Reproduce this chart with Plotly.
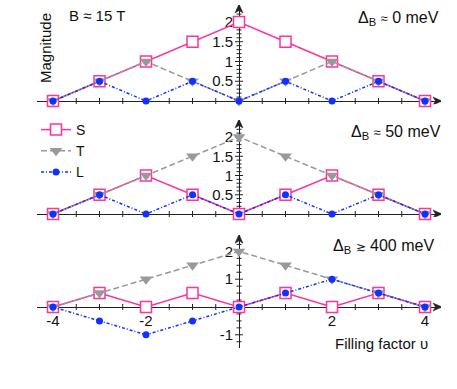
import numpy as np
import plotly.graph_objects as go

# ---------------- data ----------------
filling = [-4, -3, -2, -1, 0, 1, 2, 3, 4]

# panel 1: Delta_B ~ 0 meV
S1 = [0, 0.5, 1, 1.5, 2, 1.5, 1, 0.5, 0]
T1 = [0, 0.5, 1, 0.5, 0, 0.5, 1, 0.5, 0]
L1 = [0, 0.5, 0, 0.5, 0, 0.5, 0, 0.5, 0]
# panel 2: Delta_B ~ 50 meV
S2 = [0, 0.5, 1, 0.5, 0, 0.5, 1, 0.5, 0]
T2 = [0, 0.5, 1, 1.5, 2, 1.5, 1, 0.5, 0]
L2 = [0, 0.5, 0, 0.5, 0, 0.5, 0, 0.5, 0]
# panel 3: Delta_B >~ 400 meV
S3 = [0, 0.5, 0, 0.5, 0, 0.5, 0, 0.5, 0]
T3 = [0, 0.5, 1, 1.5, 2, 1.5, 1, 0.5, 0]
L3 = [0, -0.5, -1, -0.5, 0, 0.5, 1, 0.5, 0]

series_names = ["S", "T", "L"]
SUB_B = "<sub>B</sub>"
panel_labels = [
    f"Δ{SUB_B} <span style='font-size:13px'>≈</span> 0 meV",
    f"Δ{SUB_B} <span style='font-size:13px'>≈</span> 50 meV",
    f"Δ{SUB_B} <span style='font-size:12px'>≳</span> 400 meV",
]
xtick_labels_bottom = [-4, -2, 2, 4]
ytick_sets = [[0.5, 1, 1.5, 2], [0.5, 1, 1.5, 2], [-1, 1, 2]]

# ---------------- layout geometry ----------------
W, H = 457, 389
FONT = "Liberation Sans, Arial, Helvetica, sans-serif"
PINK = "#ff3399"
GRAY = "#999999"
BLUE = "#1430ff"
AX = "#222222"


def fx(p):
    return p / W


def fy(p):
    return 1 - p / H


def fmt(v):
    return f"{v:g}".replace("−", "-")


x_range = [-4.344, 4.344]
x_dom_px = [37, 441]
x_zero_px = 239

# (zero pixel, px per unit, y range, minor step)
panels = [
    (101, 39.5, [-0.08, 2.43], 0.1),
    (214, 38.5, [-0.08, 2.44], 0.1),
    (307, 27.8, [-1.48, 2.58], 0.25),
]

data_sets = [(S1, T1, L1), (S2, T2, L2), (S3, T3, L3)]

fig = go.Figure()
layout = dict(
    width=W, height=H,
    margin=dict(l=0, r=0, t=0, b=0),
    paper_bgcolor="white", plot_bgcolor="white",
    font=dict(family=FONT, size=14, color="#111"),
    showlegend=True,
)
shapes = []
annotations = []

for i, ((zero_px, scale, yr, minor), (S, T, L)) in enumerate(zip(panels, data_sets)):
    n = i + 1
    xa = "x" if n == 1 else f"x{n}"
    ya = "y" if n == 1 else f"y{n}"
    xkey = "xaxis" if n == 1 else f"xaxis{n}"
    ykey = "yaxis" if n == 1 else f"yaxis{n}"
    top_px = zero_px - yr[1] * scale
    bot_px = zero_px - yr[0] * scale

    show_xlab = (n == 3)
    xt = xtick_labels_bottom if show_xlab else []
    layout[xkey] = dict(
        domain=[fx(x_dom_px[0]), fx(x_dom_px[1])], range=x_range,
        anchor="free", position=fy(zero_px),
        showline=True, linecolor=AX, linewidth=1.3,
        showgrid=False, zeroline=False, ticks="",
        tickmode="array", tickvals=xt, ticktext=[fmt(v) for v in xt],
        showticklabels=show_xlab, ticklabelstandoff=0,
        tickfont=dict(size=15, family=FONT, color="#111"),
        layer="below traces", fixedrange=True,
    )
    layout[ykey] = dict(
        domain=[fy(bot_px), fy(top_px)], range=yr,
        anchor="free", position=fx(x_zero_px),
        showline=True, linecolor=AX, linewidth=1.3,
        showgrid=False, zeroline=False, ticks="",
        tickmode="array", tickvals=ytick_sets[i],
        ticktext=[fmt(v) for v in ytick_sets[i]],
        ticklabelstandoff=3,
        tickfont=dict(size=15, family=FONT, color="#111"),
        layer="below traces", fixedrange=True,
    )

    # tick marks crossing the axes
    for t in np.arange(-4, 4.01, 0.5):
        if abs(t) < 1e-9:
            continue
        shapes.append(dict(type="line", xref=xa, yref=ya, x0=t, x1=t,
                           ysizemode="pixel", yanchor=0, y0=-3, y1=3,
                           line=dict(color=AX, width=1), layer="below"))
    ymin_t = np.ceil((yr[0] + 0.02) / minor) * minor
    for t in np.arange(ymin_t, yr[1] - 0.1, minor):
        if abs(t) < 1e-9:
            continue
        major = abs(t / 0.5 - round(t / 0.5)) < 1e-6 if n < 3 else abs(t - round(t)) < 1e-6
        half = 4 if major else 2.5
        shapes.append(dict(type="line", xref=xa, yref=ya, y0=t, y1=t,
                           xsizemode="pixel", xanchor=0, x0=-half, x1=half,
                           line=dict(color=AX, width=1), layer="below"))

    # arrow heads at the axis ends (pixel-sized paths)
    shapes.append(dict(type="path", xref=xa, yref=ya,
                       xsizemode="pixel", ysizemode="pixel",
                       xanchor=x_range[1], yanchor=0,
                       path="M1,0 L-8,4 L-5.5,0 L-8,-4 Z",
                       fillcolor=AX, line=dict(color=AX, width=0.5), layer="below"))
    shapes.append(dict(type="path", xref=xa, yref=ya,
                       xsizemode="pixel", ysizemode="pixel",
                       xanchor=0, yanchor=yr[1],
                       path="M0,1 L-4,-8 L0,-5.5 L4,-8 Z",
                       fillcolor=AX, line=dict(color=AX, width=0.5), layer="below"))

    first = (n == 1)
    fig.add_trace(go.Scatter(
        x=filling, y=S, name="S", xaxis=xa, yaxis=ya, mode="lines+markers",
        line=dict(color=PINK, width=1.5),
        marker=dict(symbol="square", size=11, color="white",
                    line=dict(color=PINK, width=1.5)),
        legendgroup="S", showlegend=first, cliponaxis=False))
    fig.add_trace(go.Scatter(
        x=filling, y=T, name="T", xaxis=xa, yaxis=ya, mode="lines+markers",
        line=dict(color=GRAY, width=1.5, dash="6px,3px"),
        marker=dict(symbol="triangle-down", size=11, color=GRAY, line=dict(width=0)),
        legendgroup="T", showlegend=first, cliponaxis=False))
    fig.add_trace(go.Scatter(
        x=filling, y=L, name="L", xaxis=xa, yaxis=ya, mode="lines+markers",
        line=dict(color=BLUE, width=1.5, dash="3px,2px,1px,2px"),
        marker=dict(symbol="circle", size=7, color=BLUE, line=dict(width=0)),
        legendgroup="L", showlegend=first, cliponaxis=False))

# text labels
label_pos = [(441, 18), (443, 133), (436, 247)]
for (xr, yc), txt in zip(label_pos, panel_labels):
    annotations.append(dict(xref="paper", yref="paper", x=fx(xr), y=fy(yc),
                            xanchor="right", yanchor="middle", text=txt,
                            showarrow=False, font=dict(size=16, family=FONT, color="#111")))

annotations.append(dict(xref="paper", yref="paper", x=fx(67), y=fy(15),
                        xanchor="left", yanchor="middle", text="B ≈ 15 T",
                        showarrow=False, font=dict(size=15, family=FONT, color="#111")))
annotations.append(dict(xref="paper", yref="paper", x=fx(45), y=fy(48),
                        xanchor="center", yanchor="middle", text="Magnitude",
                        textangle=-90, showarrow=False,
                        font=dict(size=15, family=FONT, color="#111")))
annotations.append(dict(xref="paper", yref="paper", x=fx(430), y=fy(343),
                        xanchor="right", yanchor="middle", text="Filling factor υ",
                        showarrow=False, font=dict(size=15, family=FONT, color="#111")))

layout["legend"] = dict(
    x=fx(36), y=fy(114), xanchor="left", yanchor="top",
    bgcolor="rgba(0,0,0,0)", borderwidth=0,
    font=dict(size=14, family=FONT, color="#111"),
    itemwidth=30, traceorder="normal", tracegroupgap=0,
)
layout["shapes"] = shapes
layout["annotations"] = annotations
fig.update_layout(**layout)

fig.write_html(
    "out.html",
    config={"displayModeBar": False, "staticPlot": True},
    post_script="document.body.style.margin='0';document.body.style.padding='0';"
                "document.body.style.overflow='hidden';",
)
